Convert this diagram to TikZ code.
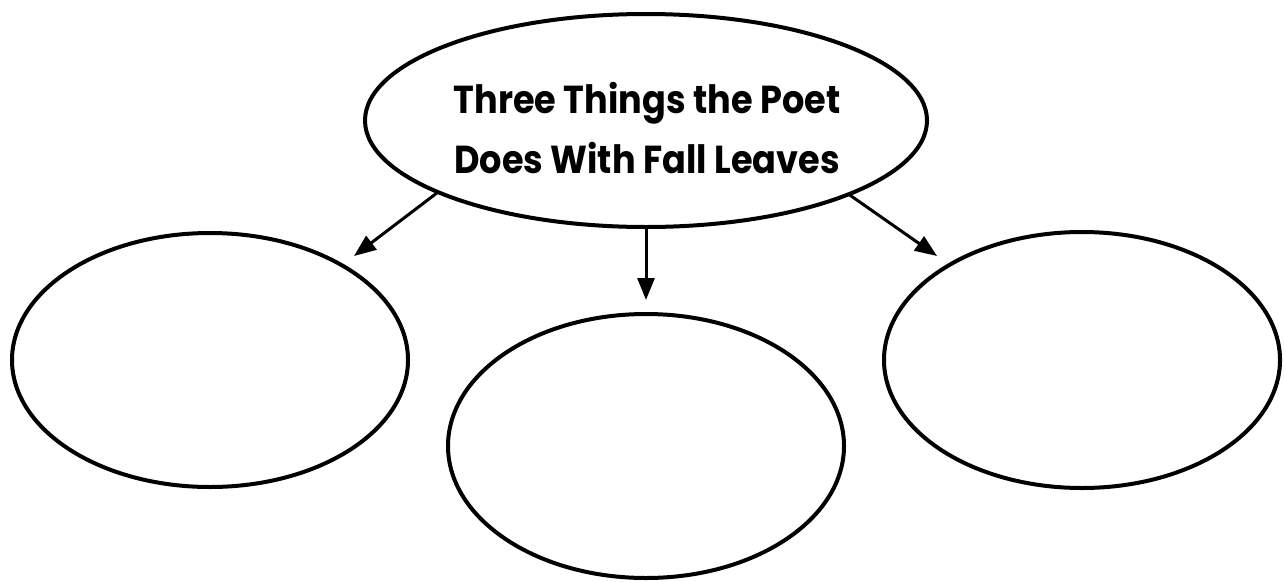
\documentclass[tikz,border=0pt]{standalone}
\usepackage{fontspec}
\setmainfont{Poppins}
\usetikzlibrary{arrows.meta,shapes.geometric}
\begin{document}
\begin{tikzpicture}[x=1pt,y=-1pt,
  bubble/.style={draw=black, line width=4pt, ellipse, inner sep=0pt, outer sep=0pt},
  arr/.style={draw=black, line width=3pt, -{Triangle[length=22pt,width=17pt]}},
  titletext/.style={font=\fontsize{39}{60}\selectfont\bfseries, inner sep=0pt, anchor=base}]
\useasboundingbox (0,0) rectangle (1284,581);
\node[bubble, minimum width=562pt, minimum height=213pt] (top) at (646,120.5) {};
\node[titletext] (t1) at (647,113) {\scalebox{0.9}[1]{Three Things the Poet}};
\node[titletext] (t2) at (647,173) {\scalebox{0.9}[1]{Does With Fall Leaves}};
\node[bubble, minimum width=396pt, minimum height=254pt] (left) at (210,360) {};
\node[bubble, minimum width=396pt, minimum height=264pt] (mid) at (646,446) {};
\node[bubble, minimum width=396pt, minimum height=256pt] (right) at (1082,360) {};
\coordinate (lt) at (354,256);
\coordinate (rt) at (937,256);
\coordinate (mt) at (646,300);
\draw[arr] (top.199.7) -- (lt);
\draw[arr] (top.south) -- (mt);
\draw[arr] (top.340.2) -- (rt);
\end{tikzpicture}
\end{document}
